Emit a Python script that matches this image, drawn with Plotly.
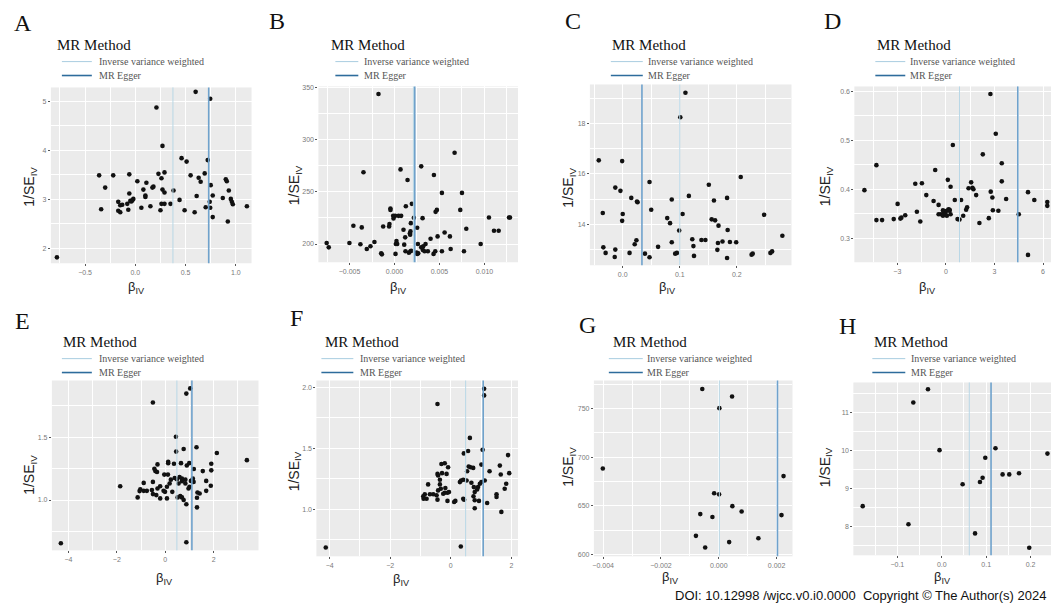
import plotly.graph_objects as go

W, H = 1051, 606

# ---------------- data (beta_IV, 1/SE_IV) ----------------
A_beta = [-0.78, 0.60, 0.745, 0.21, 0.27, 0.46, 0.51, 0.72, -0.36, -0.22, -0.06, 0.23, 0.29, 0.26, 0.55, 0.63,
          0.65, 0.69, 0.75, 0.77, 0.90, 0.91, 0.93, 0.87, 0.95, 0.96, 0.97, 1.11, 0.92, 0.77, 0.745, 0.70, 0.74,
          0.61, 0.59, 0.49, 0.44, 0.38, 0.35, 0.29, 0.26, 0.25, 0.29, 0.27, 0.18, 0.17, 0.11, 0.08, 0.02, 0.10,
          0.10, 0.15, 0.06, -0.02, -0.03, -0.05, -0.06, -0.07, -0.08, -0.17, -0.15, -0.17, -0.15, -0.34, -0.30,
          -0.04, -0.13]
A_invse = [1.82, 5.19, 5.05, 4.87, 4.09, 3.84, 3.77, 3.80, 3.49, 3.49, 3.51, 3.52, 3.55, 3.43, 3.49, 3.44,
           3.36, 3.53, 3.29, 3.08, 3.41, 3.37, 3.18, 3.03, 3.01, 2.95, 2.90, 2.86, 2.55, 2.64, 2.83, 2.84, 2.95,
           3.07, 2.74, 2.78, 2.99, 3.18, 2.91, 2.91, 2.91, 2.78, 3.14, 3.20, 3.26, 3.24, 3.34, 3.20, 3.37, 3.05,
           3.08, 2.86, 2.83, 3.01, 2.98, 2.97, 3.12, 2.79, 2.91, 2.95, 2.88, 2.77, 2.74, 2.80, 3.24, 2.96, 2.89]
A_ivw, A_egger = 0.374, 0.73

B_beta = [-0.00178, 0.00668, 0.00297, 0.00067, -0.00345, 0.00438, 0.00145, 0.00527, 0.0075, 0.00731, 0.00457,
          0.00471, 0.00193, 0.00126, -0.00045, -0.00045, -0.00015, 0.00007, 0.00045, 0.00074, -0.00011, 0.00215,
          0.00312, -0.00056, -0.0006, -0.00126, -0.00223, -0.00267, -0.00308, -0.00364, -0.00457, -0.00501,
          -0.00379, -0.00754, -0.00731, -0.00148, -0.0014, 0.00011, 0.00022, 0.00015, 0.00108, 0.00122, 0.0016,
          0.00178, 0.0026, 0.00264, 0.00297, 0.00319, 0.00345, 0.00315, 0.00334, 0.00371, 0.00401, 0.00434,
          0.00479, 0.00557, 0.00616, 0.00624, 0.00527, 0.00453, 0.00772, 0.00798, 0.00958, 0.0105, 0.01106,
          0.01158, 0.01273, 0.01284, 0.00182, 0.00252, 0.00178, 0.00171, 0.00174, 0.001, 0.0003, 0.00119,
          0.00186, 0.00252, 0.00245]
B_invse = [343.7, 287.4, 274.4, 271.5, 268.7, 266.1, 261.4, 249.0, 249.0, 232.7, 230.8, 232.7, 238.5, 236.2,
           234.0, 232.7, 227.0, 227.0, 227.0, 227.0, 224.5, 225.1, 224.8, 219.1, 216.8, 216.8, 201.9, 197.8,
           195.2, 215.9, 217.5, 201.0, 199.7, 201.0, 196.8, 191.1, 190.1, 190.5, 202.9, 200.0, 199.4, 193.0,
           191.7, 193.0, 200.0, 191.1, 196.8, 197.8, 200.0, 194.3, 193.0, 193.0, 205.1, 190.5, 207.3, 211.1,
           207.3, 195.2, 193.0, 193.0, 193.0, 214.6, 200.0, 225.4, 212.7, 212.7, 225.4, 225.4, 220.0, 215.6,
           212.1, 210.2, 208.9, 213.7, 200.0, 206.4, 193.6, 190.5, 191.7]
B_ivw, B_egger = 0.0021, 0.00225

C_beta = [0.110, 0.101, -0.042, -0.001, 0.207, 0.047, 0.151, -0.013, -0.004, 0.116, 0.183, 0.015, 0.025, 0.026,
          0.086, 0.160, 0.050, -0.035, 0.0, 0.105, 0.248, 0.078, 0.156, 0.162, -0.001, 0.083, 0.168, 0.099,
          0.184, 0.280, 0.024, 0.122, 0.138, 0.145, 0.021, 0.086, 0.167, 0.175, 0.188, 0.199, -0.034, 0.062,
          0.124, 0.166, -0.013, -0.030, 0.012, 0.039, 0.047, -0.014, 0.092, 0.095, 0.125, 0.183, 0.226, 0.228,
          0.259, 0.262]
C_invse = [19.22, 18.25, 16.54, 16.51, 15.88, 15.68, 15.57, 15.46, 15.33, 15.13, 15.05, 15.05, 14.91, 14.88,
           14.99, 14.95, 14.58, 14.45, 14.41, 14.41, 14.38, 14.25, 14.20, 14.16, 14.14, 14.05, 13.95, 13.76,
           13.78, 13.55, 13.37, 13.41, 13.38, 13.38, 13.21, 13.29, 13.26, 13.32, 13.30, 13.29, 13.09, 13.11,
           13.14, 12.99, 13.00, 12.87, 12.87, 12.84, 12.70, 12.71, 12.84, 12.87, 12.75, 12.67, 12.80, 12.84,
           12.87, 12.93]
C_ivw, C_egger = 0.100, 0.0337

D_beta = [-5.03, -4.29, -4.29, -3.94, -3.22, -2.98, -2.81, -2.75, -2.51, -1.79, -1.89, -1.48, -1.58, -1.21,
          -0.76, -0.66, -0.45, -0.31, -0.45, -0.14, -0.18, -0.04, 0.06, 0.12, 0.16, 0.23, 0.29, 0.29, 0.43, 0.55,
          0.72, 0.84, 0.94, 1.07, 1.25, 1.31, 1.40, 1.56, 1.64, 1.70, 1.87, 2.07, 2.28, 2.65, 2.75, 2.77, 2.87,
          2.90, 3.08, 3.24, 3.45, 3.45, 3.72, 4.50, 5.07, 5.07, 5.46, 6.26, 6.26, -0.18, 0.06, 0.23]
D_invse = [0.398, 0.449, 0.337, 0.337, 0.339, 0.370, 0.340, 0.342, 0.347, 0.354, 0.411, 0.412, 0.334, 0.388,
           0.376, 0.439, 0.368, 0.349, 0.349, 0.354, 0.346, 0.351, 0.346, 0.419, 0.359, 0.356, 0.405, 0.349,
           0.490, 0.378, 0.339, 0.338, 0.378, 0.346, 0.358, 0.363, 0.402, 0.414, 0.403, 0.400, 0.388, 0.331,
           0.471, 0.341, 0.594, 0.395, 0.383, 0.357, 0.513, 0.356, 0.453, 0.416, 0.380, 0.349, 0.394, 0.266,
           0.378, 0.374, 0.366, 0.357, 0.356, 0.358]
D_ivw, D_egger = 0.84, 4.44

E_beta = [-4.31, 1.03, 0.87, -0.51, 0.87, 0.44, 0.45, 0.76, 1.29, 2.13, 3.37, 1.90, 1.90, 1.55, 1.18, 0.99, 0.89,
          0.65, 0.36, 0.12, 0.12, -0.32, -0.45, -0.41, -0.34, -0.04, 0.11, 0.23, 0.39, 0.48, 0.59, 0.69, 0.83,
          1.14, 1.17, 1.06, 1.00, 0.96, 0.83, 0.69, 0.18, 0.07, -0.21, -0.51, -0.89, -1.03, -1.06, -0.89, -0.76,
          -1.14, -0.55, -0.51, -0.37, -0.21, -0.07, -0.01, 0.07, 0.29, 0.51, 0.62, 0.69, 0.76, 0.87, 1.31, 1.33,
          1.42, 1.31, 1.69, 1.88, 1.69, -1.86, -0.32, 0.55]
E_invse = [0.657, 1.887, 1.846, 1.775, 0.665, 1.503, 1.385, 1.406, 1.419, 1.374, 1.317, 1.288, 1.236, 1.230,
           1.246, 1.293, 1.275, 1.293, 1.288, 1.304, 1.293, 1.283, 1.249, 1.230, 1.223, 1.202, 1.202, 1.162,
           1.175, 1.165, 1.183, 1.170, 1.162, 1.170, 1.144, 1.152, 1.105, 1.092, 1.131, 1.149, 1.131, 1.105,
           1.110, 1.144, 1.136, 1.086, 1.071, 1.073, 1.073, 1.021, 1.079, 1.047, 1.039, 1.013, 1.073, 1.065,
           1.013, 1.065, 1.021, 1.031, 1.021, 1.000, 0.966, 1.018, 1.060, 1.052, 0.942, 1.073, 1.113, 1.152,
           1.110, 1.092, 1.131]
E_ivw, E_egger = 0.48, 1.10

F_beta = [-4.13, 0.33, 1.10, 1.10, -0.44, 0.63, 0.57, 0.43, 1.05, 1.89, 1.62, 1.28, 0.74, 0.65, 0.59, 1.01, 0.54,
          1.65, 1.93, 1.12, 1.01, 0.96, 0.90, 0.87, 0.68, 0.76, 0.79, 0.75, 0.79, 0.93, 0.79, 1.20, 1.51, 1.51,
          1.78, 1.83, 1.67, 0.30, 0.34, 0.41, 0.52, 0.41, 0.44, 0.15, 0.11, -0.11, -0.06, -0.11, -0.20, -0.25,
          -0.33, -0.36, -0.42, -0.44, -0.47, -0.58, -0.69, -0.75, -0.86, -0.91, -0.80, -0.90, -0.31, -0.20,
          -0.09, -0.44, -0.42, -0.29, -0.14, -0.36, -0.18]
F_invse = [0.686, 0.695, 1.986, 1.932, 1.862, 1.584, 1.476, 1.457, 1.486, 1.443, 1.357, 1.311, 1.338, 1.343,
           1.349, 1.365, 1.311, 1.284, 1.295, 1.235, 1.222, 1.208, 1.181, 1.162, 1.216, 1.181, 1.141, 1.105,
           1.073, 1.068, 1.008, 1.051, 1.122, 1.100, 1.168, 1.208, 0.978, 1.222, 1.235, 1.241, 1.235, 1.086,
           1.078, 1.068, 1.059, 1.068, 1.141, 1.135, 1.135, 1.127, 1.168, 1.203, 1.154, 1.078, 1.114, 1.122,
           1.122, 1.203, 1.122, 1.105, 1.086, 1.086, 1.370, 1.376, 1.343, 1.289, 1.276, 1.295, 1.289, 1.241,
           1.173]
F_ivw, F_egger = 0.49, 1.07

G_beta = [-0.00057, 0.00046, 0.00002, -0.00401, 0.00224, -0.00016, 0.00001, 0.00047, 0.00079, -0.00064,
          -0.00022, 0.00217, -0.00079, 0.00137, 0.00036, -0.00047]
G_invse = [769.9, 762.2, 750.3, 688.4, 680.6, 663.0, 661.9, 649.8, 644.3, 641.6, 638.6, 640.6, 619.3, 616.9,
           612.9, 607.4]
G_ivw, G_egger = 0.00002, 0.00203

H_beta = [-0.031, -0.064, -0.005, 0.121, 0.238, 0.098, 0.137, 0.152, 0.174, 0.092, 0.086, 0.047, -0.178,
          -0.075, 0.075, 0.197]
H_invse = [11.62, 11.27, 10.01, 10.06, 9.92, 9.81, 9.37, 9.37, 9.40, 9.28, 9.17, 9.11, 8.53, 8.05, 7.81, 7.43]
H_ivw, H_egger = 0.062, 0.111

panel_labels = ["A", "B", "C", "D", "E", "F", "G", "H"]
legend_title = "MR Method"
method_names = ["Inverse variance weighted", "MR Egger"]
x_title = "β<sub>IV</sub>"
y_title = "1/SE<sub>IV</sub>"
doi_text = "DOI: 10.12998 /wjcc.v0.i0.0000  Copyright © The Author(s) 2024"

# ---------------- layout / style specs (pixels) ----------------
specs = [
    dict(b=A_beta, s=A_invse, ivw=A_ivw, egg=A_egger, dom=(49, 250, 86, 263), xr=(-0.84, 1.156), yr=(1.70, 5.28),
         xd=0.5, yd=1, xf=".1f", yf="d", let=(21, 21), leg=(53, 60, 90, 95), ytx=28, ytitle_y=186, xt=(135, 287)),
    dict(b=B_beta, s=B_invse, ivw=B_ivw, egg=B_egger, dom=(317, 517, 85, 262), xr=(-0.00846, 0.01373),
         yr=(182.5, 351), xd=0.005, yd=50, xf=".3f", yf="d", let=(276, 19), leg=(328, 334, 357, 361), ytx=293,
         ytitle_y=184, xt=(397, 287)),
    dict(b=C_beta, s=C_invse, ivw=C_ivw, egg=C_egger, dom=(589, 791, 83, 265), xr=(-0.0576, 0.296),
         yr=(12.38, 19.55), xd=0.1, yd=2, xf=".1f", yf="d", let=(572, 19), leg=(609, 610, 642, 645), ytx=568,
         ytitle_y=187, xt=(667, 287)),
    dict(b=D_beta, s=D_invse, ivw=D_ivw, egg=D_egger, dom=(854, 1051, 85, 262), xr=(-5.65, 6.49),
         yr=(0.251, 0.6095), xd=3, yd=0.1, xf="d", yf=".1f", let=(832, 19), leg=(875, 875, 905, 908), ytx=825,
         ytitle_y=185, xt=(927, 287)),
    dict(b=E_beta, s=E_invse, ivw=E_ivw, egg=E_egger, dom=(50, 257, 381, 552), xr=(-4.68, 3.85), yr=(0.60, 1.95),
         xd=2, yd=0.5, xf="d", yf=".1f", let=(21, 321), leg=(59, 60, 90, 95), ytx=28, ytitle_y=476, xt=(163, 580)),
    dict(b=F_beta, s=F_invse, ivw=F_ivw, egg=F_egger, dom=(315, 517, 381, 558), xr=(-4.44, 2.22),
         yr=(0.614, 2.054), xd=2, yd=0.5, xf="d", yf=".1f", let=(295, 318), leg=(322, 320, 352, 357), ytx=293,
         ytitle_y=472, xt=(400, 581)),
    dict(b=G_beta, s=G_invse, ivw=G_ivw, egg=G_egger, dom=(593, 792, 381, 558), xr=(-0.00432, 0.00255),
         yr=(598.3, 778.7), xd=0.002, yd=50, xf=".3f", yf="d", let=(587, 325), leg=(610, 608, 642, 644),
         ytx=568, ytitle_y=468, xt=(670, 579)),
    dict(b=H_beta, s=H_invse, ivw=H_ivw, egg=H_egger, dom=(853, 1051, 383, 557), xr=(-0.199, 0.246),
         yr=(7.23, 11.80), xd=0.1, yd=1, xf=".1f", yf="d", let=(847, 326), leg=(872, 872, 905, 909), ytx=825,
         ytitle_y=468, xt=(942, 579)),
]

IVW_COL = "#b9d7e6"
EGG_COL = "#6fa2cc"
IVW_KEY = "#a9cde0"
EGG_KEY = "#2d6c9c"
SERIF = "Liberation Serif"
SANS = "Liberation Sans"


def px(x):
    return x / W


def py(y):
    return 1 - y / H


fig = go.Figure()
layout = dict(width=W, height=H, margin=dict(l=0, r=0, t=0, b=0), paper_bgcolor="white",
              plot_bgcolor="#EBEBEB", showlegend=False)
annotations = []
shapes = []

for i, sp in enumerate(specs):
    n = "" if i == 0 else str(i + 1)
    xa, ya = "x" + n, "y" + n
    x0, x1, y0, y1 = sp["dom"]
    tickfont = dict(family=SANS, size=7, color="#7a7a7a")
    layout["xaxis" + n] = dict(
        domain=[px(x0), px(x1)], range=list(sp["xr"]), anchor=ya, tickmode="linear", tick0=0, dtick=sp["xd"],
        tickformat=sp["xf"], showgrid=True, gridcolor="white", gridwidth=1, zeroline=False, showline=False,
        ticks="outside", ticklen=2, tickcolor="#555", tickwidth=0.6, tickfont=tickfont,
        minor=dict(dtick=sp["xd"] / 2, tick0=0, showgrid=True, gridcolor="white", gridwidth=0.5),
    )
    layout["yaxis" + n] = dict(
        domain=[py(y1), py(y0)], range=list(sp["yr"]), anchor=xa, tickmode="linear", tick0=0, dtick=sp["yd"],
        tickformat=sp["yf"], showgrid=True, gridcolor="white", gridwidth=1, zeroline=False, showline=False,
        ticks="outside", ticklen=2, tickcolor="#555", tickwidth=0.6, tickfont=tickfont,
        minor=dict(dtick=sp["yd"] / 2, tick0=0, showgrid=True, gridcolor="white", gridwidth=0.5),
    )
    fig.add_trace(go.Scatter(x=sp["b"], y=sp["s"], mode="markers", xaxis=xa, yaxis=ya,
                             marker=dict(size=4.6, color="#111111"), hoverinfo="x+y"))
    # vertical method lines (geom_vline equivalent)
    for val, col, w in ((sp["ivw"], IVW_COL, 1.0), (sp["egg"], EGG_COL, 1.6)):
        shapes.append(dict(type="line", xref=xa, yref=ya + " domain", x0=val, x1=val, y0=0, y1=1,
                           line=dict(color=col, width=w), layer="above"))
    # panel letter
    lx, ly = sp["let"]
    annotations.append(dict(text=panel_labels[i], xref="paper", yref="paper", x=px(lx), y=py(ly),
                            xanchor="center", yanchor="middle", showarrow=False,
                            font=dict(family=SERIF, size=24, color="#111")))
    # legend
    tx, lk0, lk1, ttx = sp["leg"]
    row_top = 0 if y0 < 300 else 299
    annotations.append(dict(text=legend_title, xref="paper", yref="paper", x=px(tx), y=py(row_top + 43),
                            xanchor="left", yanchor="middle", showarrow=False,
                            font=dict(family=SERIF, size=15, color="#111")))
    for k, (name, kc, kw) in enumerate(zip(method_names, (IVW_KEY, EGG_KEY), (1.0, 1.6))):
        yy = row_top + 60 + 14 * k
        shapes.append(dict(type="line", xref="paper", yref="paper", x0=px(lk0), x1=px(lk1), y0=py(yy), y1=py(yy),
                           line=dict(color=kc, width=kw)))
        annotations.append(dict(text=name, xref="paper", yref="paper", x=px(ttx), y=py(yy), xanchor="left",
                                yanchor="middle", showarrow=False,
                                font=dict(family=SERIF, size=10, color="#555")))
    # axis titles
    annotations.append(dict(text=y_title, xref="paper", yref="paper", x=px(sp["ytx"]), y=py(sp["ytitle_y"]),
                            xanchor="center", yanchor="middle", textangle=-90, showarrow=False,
                            font=dict(family=SANS, size=14, color="#222")))
    xtx, xty = sp["xt"]
    annotations.append(dict(text=x_title, xref="paper", yref="paper", x=px(xtx), y=py(xty),
                            xanchor="center", yanchor="middle", showarrow=False,
                            font=dict(family=SANS, size=13, color="#222")))

annotations.append(dict(text=doi_text, xref="paper", yref="paper", x=px(1048), y=py(597), xanchor="right",
                        yanchor="middle", showarrow=False, font=dict(family=SANS, size=13, color="#111")))

layout["annotations"] = annotations
layout["shapes"] = shapes
fig.update_layout(**layout)
fig.write_html("out.html", config={"displayModeBar": False},
               post_script="document.body.style.margin='0px';document.body.style.overflow='hidden';")
